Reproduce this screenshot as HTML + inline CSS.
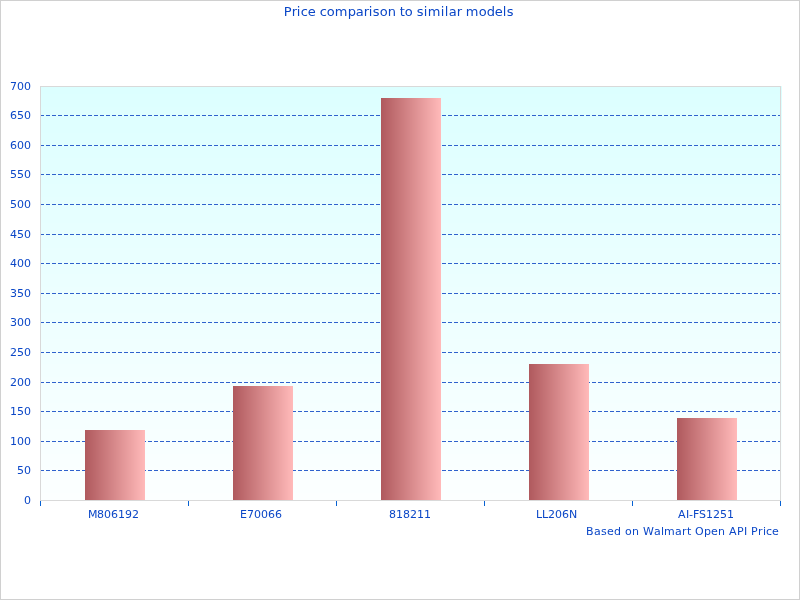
<!DOCTYPE html>
<html><head><meta charset="utf-8"><title>Price comparison to similar models</title>
<style>
html,body{margin:0;padding:0;background:#fff;}
body{width:800px;height:600px;overflow:hidden;}
svg{display:block;} text{will-change:transform;}
text{font-family:"DejaVu Sans","Liberation Sans",sans-serif;fill:#0B47C7;}
</style></head><body>
<svg width="800" height="600" viewBox="0 0 800 600">

<rect x="0" y="0" width="800" height="600" fill="#fff"/>
<rect x="0.5" y="0.5" width="799" height="599" fill="none" stroke="#D0D0D0" stroke-width="1" shape-rendering="crispEdges"/>

<g shape-rendering="crispEdges"><rect x="40" y="86" width="742" height="8" fill="#dcffff"/><rect x="40" y="94" width="742" height="13" fill="#ddffff"/><rect x="40" y="107" width="742" height="13" fill="#deffff"/><rect x="40" y="120" width="742" height="13" fill="#dfffff"/><rect x="40" y="133" width="742" height="12" fill="#e0ffff"/><rect x="40" y="145" width="742" height="13" fill="#e1ffff"/><rect x="40" y="158" width="742" height="13" fill="#e2ffff"/><rect x="40" y="171" width="742" height="13" fill="#e3ffff"/><rect x="40" y="184" width="742" height="13" fill="#e4ffff"/><rect x="40" y="197" width="742" height="13" fill="#e5ffff"/><rect x="40" y="210" width="742" height="13" fill="#e6ffff"/><rect x="40" y="223" width="742" height="13" fill="#e7ffff"/><rect x="40" y="236" width="742" height="12" fill="#e8ffff"/><rect x="40" y="248" width="742" height="13" fill="#e9ffff"/><rect x="40" y="261" width="742" height="13" fill="#eaffff"/><rect x="40" y="274" width="742" height="13" fill="#ebffff"/><rect x="40" y="287" width="742" height="13" fill="#ecffff"/><rect x="40" y="300" width="742" height="13" fill="#edffff"/><rect x="40" y="313" width="742" height="13" fill="#eeffff"/><rect x="40" y="326" width="742" height="13" fill="#efffff"/><rect x="40" y="339" width="742" height="12" fill="#f0ffff"/><rect x="40" y="351" width="742" height="13" fill="#f1ffff"/><rect x="40" y="364" width="742" height="13" fill="#f2ffff"/><rect x="40" y="377" width="742" height="13" fill="#f3ffff"/><rect x="40" y="390" width="742" height="13" fill="#f4ffff"/><rect x="40" y="403" width="742" height="13" fill="#f5ffff"/><rect x="40" y="416" width="742" height="13" fill="#f6ffff"/><rect x="40" y="429" width="742" height="13" fill="#f7ffff"/><rect x="40" y="442" width="742" height="12" fill="#f8ffff"/><rect x="40" y="454" width="742" height="13" fill="#f9ffff"/><rect x="40" y="467" width="742" height="13" fill="#faffff"/><rect x="40" y="480" width="742" height="13" fill="#fbffff"/><rect x="40" y="493" width="742" height="8" fill="#fcffff"/></g>


<g shape-rendering="crispEdges" stroke="#2F62CD" stroke-width="1" stroke-dasharray="4 2">
<line x1="40" y1="470.5" x2="780" y2="470.5"/>
<line x1="40" y1="441.5" x2="780" y2="441.5"/>
<line x1="40" y1="411.5" x2="780" y2="411.5"/>
<line x1="40" y1="382.5" x2="780" y2="382.5"/>
<line x1="40" y1="352.5" x2="780" y2="352.5"/>
<line x1="40" y1="322.5" x2="780" y2="322.5"/>
<line x1="40" y1="293.5" x2="780" y2="293.5"/>
<line x1="40" y1="263.5" x2="780" y2="263.5"/>
<line x1="40" y1="234.5" x2="780" y2="234.5"/>
<line x1="40" y1="204.5" x2="780" y2="204.5"/>
<line x1="40" y1="174.5" x2="780" y2="174.5"/>
<line x1="40" y1="145.5" x2="780" y2="145.5"/>
<line x1="40" y1="115.5" x2="780" y2="115.5"/>
</g>
<g shape-rendering="crispEdges">
<rect x="85" y="430" width="1" height="70" fill="#b05a5e"/><rect x="86" y="430" width="1" height="70" fill="#b15c60"/><rect x="87" y="430" width="1" height="70" fill="#b35d61"/><rect x="88" y="430" width="1" height="70" fill="#b45f63"/><rect x="89" y="430" width="1" height="70" fill="#b56064"/><rect x="90" y="430" width="1" height="70" fill="#b76266"/><rect x="91" y="430" width="1" height="70" fill="#b86467"/><rect x="92" y="430" width="1" height="70" fill="#b96569"/><rect x="93" y="430" width="1" height="70" fill="#bb676a"/><rect x="94" y="430" width="1" height="70" fill="#bc686c"/><rect x="95" y="430" width="1" height="70" fill="#bd6a6d"/><rect x="96" y="430" width="1" height="70" fill="#bf6c6f"/><rect x="97" y="430" width="1" height="70" fill="#c06d71"/><rect x="98" y="430" width="1" height="70" fill="#c16f72"/><rect x="99" y="430" width="1" height="70" fill="#c37174"/><rect x="100" y="430" width="1" height="70" fill="#c47275"/><rect x="101" y="430" width="1" height="70" fill="#c57477"/><rect x="102" y="430" width="1" height="70" fill="#c77578"/><rect x="103" y="430" width="1" height="70" fill="#c8777a"/><rect x="104" y="430" width="1" height="70" fill="#c9797b"/><rect x="105" y="430" width="1" height="70" fill="#cb7a7d"/><rect x="106" y="430" width="1" height="70" fill="#cc7c7e"/><rect x="107" y="430" width="1" height="70" fill="#cd7d80"/><rect x="108" y="430" width="1" height="70" fill="#cf7f81"/><rect x="109" y="430" width="1" height="70" fill="#d08183"/><rect x="110" y="430" width="1" height="70" fill="#d18285"/><rect x="111" y="430" width="1" height="70" fill="#d38486"/><rect x="112" y="430" width="1" height="70" fill="#d48588"/><rect x="113" y="430" width="1" height="70" fill="#d58789"/><rect x="114" y="430" width="1" height="70" fill="#d7898b"/><rect x="115" y="430" width="1" height="70" fill="#d88a8c"/><rect x="116" y="430" width="1" height="70" fill="#da8c8e"/><rect x="117" y="430" width="1" height="70" fill="#db8e8f"/><rect x="118" y="430" width="1" height="70" fill="#dc8f91"/><rect x="119" y="430" width="1" height="70" fill="#de9192"/><rect x="120" y="430" width="1" height="70" fill="#df9294"/><rect x="121" y="430" width="1" height="70" fill="#e09496"/><rect x="122" y="430" width="1" height="70" fill="#e29697"/><rect x="123" y="430" width="1" height="70" fill="#e39799"/><rect x="124" y="430" width="1" height="70" fill="#e4999a"/><rect x="125" y="430" width="1" height="70" fill="#e69a9c"/><rect x="126" y="430" width="1" height="70" fill="#e79c9d"/><rect x="127" y="430" width="1" height="70" fill="#e89e9f"/><rect x="128" y="430" width="1" height="70" fill="#ea9fa0"/><rect x="129" y="430" width="1" height="70" fill="#eba1a2"/><rect x="130" y="430" width="1" height="70" fill="#eca2a3"/><rect x="131" y="430" width="1" height="70" fill="#eea4a5"/><rect x="132" y="430" width="1" height="70" fill="#efa6a6"/><rect x="133" y="430" width="1" height="70" fill="#f0a7a8"/><rect x="134" y="430" width="1" height="70" fill="#f2a9aa"/><rect x="135" y="430" width="1" height="70" fill="#f3abab"/><rect x="136" y="430" width="1" height="70" fill="#f4acad"/><rect x="137" y="430" width="1" height="70" fill="#f6aeae"/><rect x="138" y="430" width="1" height="70" fill="#f7afb0"/><rect x="139" y="430" width="1" height="70" fill="#f8b1b1"/><rect x="140" y="430" width="1" height="70" fill="#fab3b3"/><rect x="141" y="430" width="1" height="70" fill="#fbb4b4"/><rect x="142" y="430" width="1" height="70" fill="#fcb6b6"/><rect x="143" y="430" width="1" height="70" fill="#feb7b7"/><rect x="144" y="430" width="1" height="70" fill="#ffb9b9"/>
<rect x="233" y="386" width="1" height="114" fill="#b05a5e"/><rect x="234" y="386" width="1" height="114" fill="#b15c60"/><rect x="235" y="386" width="1" height="114" fill="#b35d61"/><rect x="236" y="386" width="1" height="114" fill="#b45f63"/><rect x="237" y="386" width="1" height="114" fill="#b56064"/><rect x="238" y="386" width="1" height="114" fill="#b76266"/><rect x="239" y="386" width="1" height="114" fill="#b86467"/><rect x="240" y="386" width="1" height="114" fill="#b96569"/><rect x="241" y="386" width="1" height="114" fill="#bb676a"/><rect x="242" y="386" width="1" height="114" fill="#bc686c"/><rect x="243" y="386" width="1" height="114" fill="#bd6a6d"/><rect x="244" y="386" width="1" height="114" fill="#bf6c6f"/><rect x="245" y="386" width="1" height="114" fill="#c06d71"/><rect x="246" y="386" width="1" height="114" fill="#c16f72"/><rect x="247" y="386" width="1" height="114" fill="#c37174"/><rect x="248" y="386" width="1" height="114" fill="#c47275"/><rect x="249" y="386" width="1" height="114" fill="#c57477"/><rect x="250" y="386" width="1" height="114" fill="#c77578"/><rect x="251" y="386" width="1" height="114" fill="#c8777a"/><rect x="252" y="386" width="1" height="114" fill="#c9797b"/><rect x="253" y="386" width="1" height="114" fill="#cb7a7d"/><rect x="254" y="386" width="1" height="114" fill="#cc7c7e"/><rect x="255" y="386" width="1" height="114" fill="#cd7d80"/><rect x="256" y="386" width="1" height="114" fill="#cf7f81"/><rect x="257" y="386" width="1" height="114" fill="#d08183"/><rect x="258" y="386" width="1" height="114" fill="#d18285"/><rect x="259" y="386" width="1" height="114" fill="#d38486"/><rect x="260" y="386" width="1" height="114" fill="#d48588"/><rect x="261" y="386" width="1" height="114" fill="#d58789"/><rect x="262" y="386" width="1" height="114" fill="#d7898b"/><rect x="263" y="386" width="1" height="114" fill="#d88a8c"/><rect x="264" y="386" width="1" height="114" fill="#da8c8e"/><rect x="265" y="386" width="1" height="114" fill="#db8e8f"/><rect x="266" y="386" width="1" height="114" fill="#dc8f91"/><rect x="267" y="386" width="1" height="114" fill="#de9192"/><rect x="268" y="386" width="1" height="114" fill="#df9294"/><rect x="269" y="386" width="1" height="114" fill="#e09496"/><rect x="270" y="386" width="1" height="114" fill="#e29697"/><rect x="271" y="386" width="1" height="114" fill="#e39799"/><rect x="272" y="386" width="1" height="114" fill="#e4999a"/><rect x="273" y="386" width="1" height="114" fill="#e69a9c"/><rect x="274" y="386" width="1" height="114" fill="#e79c9d"/><rect x="275" y="386" width="1" height="114" fill="#e89e9f"/><rect x="276" y="386" width="1" height="114" fill="#ea9fa0"/><rect x="277" y="386" width="1" height="114" fill="#eba1a2"/><rect x="278" y="386" width="1" height="114" fill="#eca2a3"/><rect x="279" y="386" width="1" height="114" fill="#eea4a5"/><rect x="280" y="386" width="1" height="114" fill="#efa6a6"/><rect x="281" y="386" width="1" height="114" fill="#f0a7a8"/><rect x="282" y="386" width="1" height="114" fill="#f2a9aa"/><rect x="283" y="386" width="1" height="114" fill="#f3abab"/><rect x="284" y="386" width="1" height="114" fill="#f4acad"/><rect x="285" y="386" width="1" height="114" fill="#f6aeae"/><rect x="286" y="386" width="1" height="114" fill="#f7afb0"/><rect x="287" y="386" width="1" height="114" fill="#f8b1b1"/><rect x="288" y="386" width="1" height="114" fill="#fab3b3"/><rect x="289" y="386" width="1" height="114" fill="#fbb4b4"/><rect x="290" y="386" width="1" height="114" fill="#fcb6b6"/><rect x="291" y="386" width="1" height="114" fill="#feb7b7"/><rect x="292" y="386" width="1" height="114" fill="#ffb9b9"/>
<rect x="381" y="98" width="1" height="402" fill="#b05a5e"/><rect x="382" y="98" width="1" height="402" fill="#b15c60"/><rect x="383" y="98" width="1" height="402" fill="#b35d61"/><rect x="384" y="98" width="1" height="402" fill="#b45f63"/><rect x="385" y="98" width="1" height="402" fill="#b56064"/><rect x="386" y="98" width="1" height="402" fill="#b76266"/><rect x="387" y="98" width="1" height="402" fill="#b86467"/><rect x="388" y="98" width="1" height="402" fill="#b96569"/><rect x="389" y="98" width="1" height="402" fill="#bb676a"/><rect x="390" y="98" width="1" height="402" fill="#bc686c"/><rect x="391" y="98" width="1" height="402" fill="#bd6a6d"/><rect x="392" y="98" width="1" height="402" fill="#bf6c6f"/><rect x="393" y="98" width="1" height="402" fill="#c06d71"/><rect x="394" y="98" width="1" height="402" fill="#c16f72"/><rect x="395" y="98" width="1" height="402" fill="#c37174"/><rect x="396" y="98" width="1" height="402" fill="#c47275"/><rect x="397" y="98" width="1" height="402" fill="#c57477"/><rect x="398" y="98" width="1" height="402" fill="#c77578"/><rect x="399" y="98" width="1" height="402" fill="#c8777a"/><rect x="400" y="98" width="1" height="402" fill="#c9797b"/><rect x="401" y="98" width="1" height="402" fill="#cb7a7d"/><rect x="402" y="98" width="1" height="402" fill="#cc7c7e"/><rect x="403" y="98" width="1" height="402" fill="#cd7d80"/><rect x="404" y="98" width="1" height="402" fill="#cf7f81"/><rect x="405" y="98" width="1" height="402" fill="#d08183"/><rect x="406" y="98" width="1" height="402" fill="#d18285"/><rect x="407" y="98" width="1" height="402" fill="#d38486"/><rect x="408" y="98" width="1" height="402" fill="#d48588"/><rect x="409" y="98" width="1" height="402" fill="#d58789"/><rect x="410" y="98" width="1" height="402" fill="#d7898b"/><rect x="411" y="98" width="1" height="402" fill="#d88a8c"/><rect x="412" y="98" width="1" height="402" fill="#da8c8e"/><rect x="413" y="98" width="1" height="402" fill="#db8e8f"/><rect x="414" y="98" width="1" height="402" fill="#dc8f91"/><rect x="415" y="98" width="1" height="402" fill="#de9192"/><rect x="416" y="98" width="1" height="402" fill="#df9294"/><rect x="417" y="98" width="1" height="402" fill="#e09496"/><rect x="418" y="98" width="1" height="402" fill="#e29697"/><rect x="419" y="98" width="1" height="402" fill="#e39799"/><rect x="420" y="98" width="1" height="402" fill="#e4999a"/><rect x="421" y="98" width="1" height="402" fill="#e69a9c"/><rect x="422" y="98" width="1" height="402" fill="#e79c9d"/><rect x="423" y="98" width="1" height="402" fill="#e89e9f"/><rect x="424" y="98" width="1" height="402" fill="#ea9fa0"/><rect x="425" y="98" width="1" height="402" fill="#eba1a2"/><rect x="426" y="98" width="1" height="402" fill="#eca2a3"/><rect x="427" y="98" width="1" height="402" fill="#eea4a5"/><rect x="428" y="98" width="1" height="402" fill="#efa6a6"/><rect x="429" y="98" width="1" height="402" fill="#f0a7a8"/><rect x="430" y="98" width="1" height="402" fill="#f2a9aa"/><rect x="431" y="98" width="1" height="402" fill="#f3abab"/><rect x="432" y="98" width="1" height="402" fill="#f4acad"/><rect x="433" y="98" width="1" height="402" fill="#f6aeae"/><rect x="434" y="98" width="1" height="402" fill="#f7afb0"/><rect x="435" y="98" width="1" height="402" fill="#f8b1b1"/><rect x="436" y="98" width="1" height="402" fill="#fab3b3"/><rect x="437" y="98" width="1" height="402" fill="#fbb4b4"/><rect x="438" y="98" width="1" height="402" fill="#fcb6b6"/><rect x="439" y="98" width="1" height="402" fill="#feb7b7"/><rect x="440" y="98" width="1" height="402" fill="#ffb9b9"/>
<rect x="529" y="364" width="1" height="136" fill="#b05a5e"/><rect x="530" y="364" width="1" height="136" fill="#b15c60"/><rect x="531" y="364" width="1" height="136" fill="#b35d61"/><rect x="532" y="364" width="1" height="136" fill="#b45f63"/><rect x="533" y="364" width="1" height="136" fill="#b56064"/><rect x="534" y="364" width="1" height="136" fill="#b76266"/><rect x="535" y="364" width="1" height="136" fill="#b86467"/><rect x="536" y="364" width="1" height="136" fill="#b96569"/><rect x="537" y="364" width="1" height="136" fill="#bb676a"/><rect x="538" y="364" width="1" height="136" fill="#bc686c"/><rect x="539" y="364" width="1" height="136" fill="#bd6a6d"/><rect x="540" y="364" width="1" height="136" fill="#bf6c6f"/><rect x="541" y="364" width="1" height="136" fill="#c06d71"/><rect x="542" y="364" width="1" height="136" fill="#c16f72"/><rect x="543" y="364" width="1" height="136" fill="#c37174"/><rect x="544" y="364" width="1" height="136" fill="#c47275"/><rect x="545" y="364" width="1" height="136" fill="#c57477"/><rect x="546" y="364" width="1" height="136" fill="#c77578"/><rect x="547" y="364" width="1" height="136" fill="#c8777a"/><rect x="548" y="364" width="1" height="136" fill="#c9797b"/><rect x="549" y="364" width="1" height="136" fill="#cb7a7d"/><rect x="550" y="364" width="1" height="136" fill="#cc7c7e"/><rect x="551" y="364" width="1" height="136" fill="#cd7d80"/><rect x="552" y="364" width="1" height="136" fill="#cf7f81"/><rect x="553" y="364" width="1" height="136" fill="#d08183"/><rect x="554" y="364" width="1" height="136" fill="#d18285"/><rect x="555" y="364" width="1" height="136" fill="#d38486"/><rect x="556" y="364" width="1" height="136" fill="#d48588"/><rect x="557" y="364" width="1" height="136" fill="#d58789"/><rect x="558" y="364" width="1" height="136" fill="#d7898b"/><rect x="559" y="364" width="1" height="136" fill="#d88a8c"/><rect x="560" y="364" width="1" height="136" fill="#da8c8e"/><rect x="561" y="364" width="1" height="136" fill="#db8e8f"/><rect x="562" y="364" width="1" height="136" fill="#dc8f91"/><rect x="563" y="364" width="1" height="136" fill="#de9192"/><rect x="564" y="364" width="1" height="136" fill="#df9294"/><rect x="565" y="364" width="1" height="136" fill="#e09496"/><rect x="566" y="364" width="1" height="136" fill="#e29697"/><rect x="567" y="364" width="1" height="136" fill="#e39799"/><rect x="568" y="364" width="1" height="136" fill="#e4999a"/><rect x="569" y="364" width="1" height="136" fill="#e69a9c"/><rect x="570" y="364" width="1" height="136" fill="#e79c9d"/><rect x="571" y="364" width="1" height="136" fill="#e89e9f"/><rect x="572" y="364" width="1" height="136" fill="#ea9fa0"/><rect x="573" y="364" width="1" height="136" fill="#eba1a2"/><rect x="574" y="364" width="1" height="136" fill="#eca2a3"/><rect x="575" y="364" width="1" height="136" fill="#eea4a5"/><rect x="576" y="364" width="1" height="136" fill="#efa6a6"/><rect x="577" y="364" width="1" height="136" fill="#f0a7a8"/><rect x="578" y="364" width="1" height="136" fill="#f2a9aa"/><rect x="579" y="364" width="1" height="136" fill="#f3abab"/><rect x="580" y="364" width="1" height="136" fill="#f4acad"/><rect x="581" y="364" width="1" height="136" fill="#f6aeae"/><rect x="582" y="364" width="1" height="136" fill="#f7afb0"/><rect x="583" y="364" width="1" height="136" fill="#f8b1b1"/><rect x="584" y="364" width="1" height="136" fill="#fab3b3"/><rect x="585" y="364" width="1" height="136" fill="#fbb4b4"/><rect x="586" y="364" width="1" height="136" fill="#fcb6b6"/><rect x="587" y="364" width="1" height="136" fill="#feb7b7"/><rect x="588" y="364" width="1" height="136" fill="#ffb9b9"/>
<rect x="677" y="418" width="1" height="82" fill="#b05a5e"/><rect x="678" y="418" width="1" height="82" fill="#b15c60"/><rect x="679" y="418" width="1" height="82" fill="#b35d61"/><rect x="680" y="418" width="1" height="82" fill="#b45f63"/><rect x="681" y="418" width="1" height="82" fill="#b56064"/><rect x="682" y="418" width="1" height="82" fill="#b76266"/><rect x="683" y="418" width="1" height="82" fill="#b86467"/><rect x="684" y="418" width="1" height="82" fill="#b96569"/><rect x="685" y="418" width="1" height="82" fill="#bb676a"/><rect x="686" y="418" width="1" height="82" fill="#bc686c"/><rect x="687" y="418" width="1" height="82" fill="#bd6a6d"/><rect x="688" y="418" width="1" height="82" fill="#bf6c6f"/><rect x="689" y="418" width="1" height="82" fill="#c06d71"/><rect x="690" y="418" width="1" height="82" fill="#c16f72"/><rect x="691" y="418" width="1" height="82" fill="#c37174"/><rect x="692" y="418" width="1" height="82" fill="#c47275"/><rect x="693" y="418" width="1" height="82" fill="#c57477"/><rect x="694" y="418" width="1" height="82" fill="#c77578"/><rect x="695" y="418" width="1" height="82" fill="#c8777a"/><rect x="696" y="418" width="1" height="82" fill="#c9797b"/><rect x="697" y="418" width="1" height="82" fill="#cb7a7d"/><rect x="698" y="418" width="1" height="82" fill="#cc7c7e"/><rect x="699" y="418" width="1" height="82" fill="#cd7d80"/><rect x="700" y="418" width="1" height="82" fill="#cf7f81"/><rect x="701" y="418" width="1" height="82" fill="#d08183"/><rect x="702" y="418" width="1" height="82" fill="#d18285"/><rect x="703" y="418" width="1" height="82" fill="#d38486"/><rect x="704" y="418" width="1" height="82" fill="#d48588"/><rect x="705" y="418" width="1" height="82" fill="#d58789"/><rect x="706" y="418" width="1" height="82" fill="#d7898b"/><rect x="707" y="418" width="1" height="82" fill="#d88a8c"/><rect x="708" y="418" width="1" height="82" fill="#da8c8e"/><rect x="709" y="418" width="1" height="82" fill="#db8e8f"/><rect x="710" y="418" width="1" height="82" fill="#dc8f91"/><rect x="711" y="418" width="1" height="82" fill="#de9192"/><rect x="712" y="418" width="1" height="82" fill="#df9294"/><rect x="713" y="418" width="1" height="82" fill="#e09496"/><rect x="714" y="418" width="1" height="82" fill="#e29697"/><rect x="715" y="418" width="1" height="82" fill="#e39799"/><rect x="716" y="418" width="1" height="82" fill="#e4999a"/><rect x="717" y="418" width="1" height="82" fill="#e69a9c"/><rect x="718" y="418" width="1" height="82" fill="#e79c9d"/><rect x="719" y="418" width="1" height="82" fill="#e89e9f"/><rect x="720" y="418" width="1" height="82" fill="#ea9fa0"/><rect x="721" y="418" width="1" height="82" fill="#eba1a2"/><rect x="722" y="418" width="1" height="82" fill="#eca2a3"/><rect x="723" y="418" width="1" height="82" fill="#eea4a5"/><rect x="724" y="418" width="1" height="82" fill="#efa6a6"/><rect x="725" y="418" width="1" height="82" fill="#f0a7a8"/><rect x="726" y="418" width="1" height="82" fill="#f2a9aa"/><rect x="727" y="418" width="1" height="82" fill="#f3abab"/><rect x="728" y="418" width="1" height="82" fill="#f4acad"/><rect x="729" y="418" width="1" height="82" fill="#f6aeae"/><rect x="730" y="418" width="1" height="82" fill="#f7afb0"/><rect x="731" y="418" width="1" height="82" fill="#f8b1b1"/><rect x="732" y="418" width="1" height="82" fill="#fab3b3"/><rect x="733" y="418" width="1" height="82" fill="#fbb4b4"/><rect x="734" y="418" width="1" height="82" fill="#fcb6b6"/><rect x="735" y="418" width="1" height="82" fill="#feb7b7"/><rect x="736" y="418" width="1" height="82" fill="#ffb9b9"/>
</g>
<rect x="40.5" y="86.5" width="740" height="414" fill="none" stroke="#D9D9D9" shape-rendering="crispEdges"/>
<g shape-rendering="crispEdges" stroke="#0862D2">
<line x1="40.5" y1="501" x2="40.5" y2="506"/>
<line x1="188.5" y1="501" x2="188.5" y2="506"/>
<line x1="336.5" y1="501" x2="336.5" y2="506"/>
<line x1="484.5" y1="501" x2="484.5" y2="506"/>
<line x1="632.5" y1="501" x2="632.5" y2="506"/>
<line x1="780.5" y1="501" x2="780.5" y2="506"/>
</g>
<g>
<text x="283.8 291.8 296.8 300.8 307.8 315.8 319.8 326.8 334.8 347.8 355.8 363.8 368.8 372.8 379.8 387.8 395.8 399.8 404.8 412.8 416.8 423.8 427.8 440.8 444.8 448.8 456.8 461.8 465.8 478.8 486.8 494.8 502.8 506.8" y="16" font-size="13">Price comparison to similar models</text>
<text x="24.0" y="504" font-size="11">0</text>
<text x="17.0 24.0" y="474" font-size="11">50</text>
<text x="10.0 17.0 24.0" y="445" font-size="11">100</text>
<text x="10.0 17.0 24.0" y="415" font-size="11">150</text>
<text x="10.0 17.0 24.0" y="386" font-size="11">200</text>
<text x="10.0 17.0 24.0" y="356" font-size="11">250</text>
<text x="10.0 17.0 24.0" y="326" font-size="11">300</text>
<text x="10.0 17.0 24.0" y="297" font-size="11">350</text>
<text x="10.0 17.0 24.0" y="267" font-size="11">400</text>
<text x="10.0 17.0 24.0" y="238" font-size="11">450</text>
<text x="10.0 17.0 24.0" y="208" font-size="11">500</text>
<text x="10.0 17.0 24.0" y="178" font-size="11">550</text>
<text x="10.0 17.0 24.0" y="149" font-size="11">600</text>
<text x="10.0 17.0 24.0" y="119" font-size="11">650</text>
<text x="10.0 17.0 24.0" y="90" font-size="11">700</text>
<text x="88 97.0 104.0 111.0 118.0 125.0 132.0" y="518" font-size="11">M806192</text>
<text x="240 247.0 254.0 261.0 268.0 275.0" y="518" font-size="11">E70066</text>
<text x="389 396.0 403.0 410.0 417.0 424.0" y="518" font-size="11">818211</text>
<text x="536 542.0 548.0 555.0 562.0 569.0" y="518" font-size="11">LL206N</text>
<text x="678 686.0 689.0 693.0 699.0 706.0 713.0 720.0 727.0" y="518" font-size="11">AI-FS1251</text>
<text x="586 594.0 601.0 607.0 614.0 621.0 625.0 632.0 639.0 643.0 654.0 661.0 664.0 675.0 682.0 687.0 691.0 695.0 704.0 711.0 718.0 725.0 729.0 737.0 744.0 747.0 751.0 758.0 763.0 766.0 772.0" y="535" font-size="11">Based on Walmart Open API Price</text>
</g>
</svg></body></html>
